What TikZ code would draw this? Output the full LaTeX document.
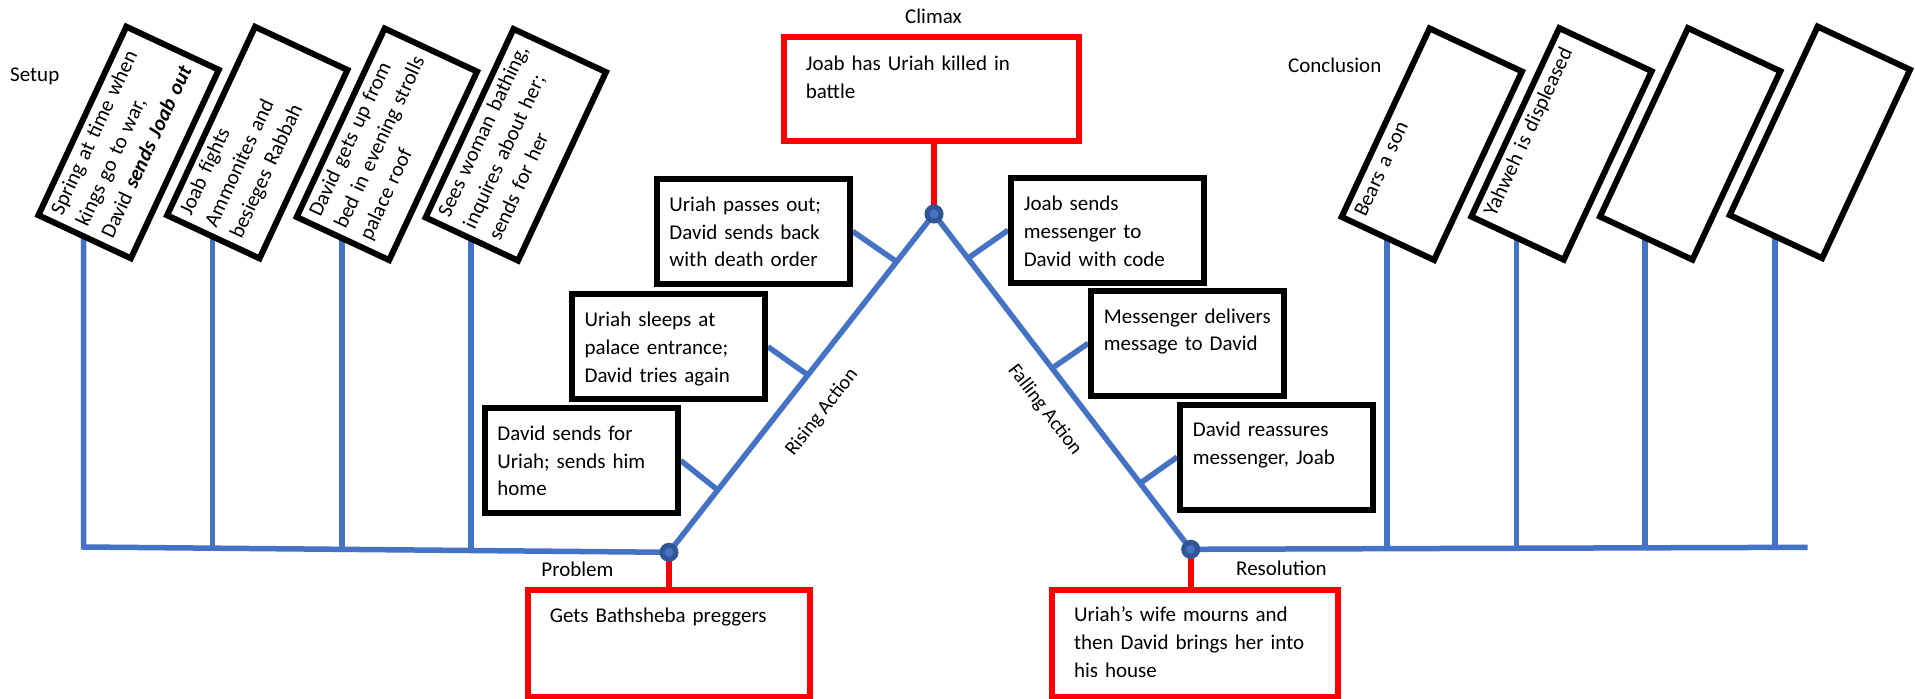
\documentclass[tikz,border=0pt]{standalone}
\usepackage{fontspec}
\setmainfont{Carlito}
\usetikzlibrary{calc,backgrounds}
\definecolor{lineblue}{HTML}{4472C4}
\definecolor{dotblue}{HTML}{2F5597}
\definecolor{boxred}{HTML}{FF0000}
\tikzset{
  txt/.style={font=\fontsize{21}{27.8}\selectfont, inner sep=0pt, anchor=base west, align=left, text width=#1},
  txt/.default=260pt,
  blackbox/.style={draw=black, line width=6pt, fill=white, inner sep=0pt, minimum width=193pt, minimum height=105pt},
  redbox/.style={draw=boxred, line width=6pt, fill=white, inner sep=0pt},
  slantbox/.style={draw=black, line width=6pt, fill=white, inner sep=0pt, minimum width=208pt, minimum height=102pt, rotate=65},
  slanttxt/.style={txt=210pt, rotate=65},
  blueline/.style={draw=lineblue, line width=5.5pt},
  redline/.style={draw=boxred, line width=6pt},
  dot/.style={circle, fill=lineblue, draw=dotblue, line width=5pt, minimum size=14pt, inner sep=0pt},
  lbl/.style={font=\fontsize{21}{26}\selectfont, inner sep=0pt},
  sidelbl/.style={font=\fontsize{20}{24}\selectfont, inner sep=0pt},
}
\begin{document}
\begin{tikzpicture}[x=1pt,y=-1pt]
\useasboundingbox (0,0) rectangle (1915,699);

% ---------- plot points ----------
\node[dot] (prob) at (669,552.3) {};
\node[dot] (clim) at (934,214) {};
\node[dot] (res) at (1190.7,549.3) {};

% ---------- red boxes ----------
\node[redbox, minimum width=294.4pt, minimum height=104pt] (climbox) at (931.3,89.3) {};
\node[txt] at ($(climbox.north west)+(24.5,36)$) {Joab has Uriah killed in\\battle};
\node[redbox, minimum width=281.7pt, minimum height=106.8pt] (probbox) at (668.9,643.1) {};
\node[txt] at ($(probbox.north west)+(24.5,36)$) {Gets Bathsheba preggers};
\node[redbox, minimum width=285.7pt, minimum height=106.8pt] (resbox) at (1195.2,643.1) {};
\node[txt] at ($(resbox.north west)+(24.5,35)$) {Uriah’s wife mourns and\\then David brings her into\\his house};

% ---------- rising / falling boxes ----------
\node[blackbox] (b1l) at (581.2,460.5) {};
\node[txt] at ($(b1l.north west)+(15.5,35.3)$) {David sends for\\Uriah; sends him\\home};
\node[blackbox] (b2l) at (668.4,346.7) {};
\node[txt] at ($(b2l.north west)+(15.5,35.3)$) {Uriah sleeps at\\palace entrance;\\David tries again};
\node[blackbox] (b3l) at (753.2,231.4) {};
\node[txt] at ($(b3l.north west)+(15.5,35.3)$) {Uriah passes out;\\David sends back\\with death order};
\node[blackbox] (b3r) at (1107.6,230.2) {};
\node[txt] at ($(b3r.north west)+(15.5,35.8)$) {Joab sends\\messenger to\\David with code};
\node[blackbox] (b2r) at (1187.7,343.3) {};
\node[txt] at ($(b2r.north west)+(15.5,35.3)$) {Messenger delivers\\message to David};
\node[blackbox] (b1r) at (1276.7,457) {};
\node[txt] at ($(b1r.north west)+(15.5,35.3)$) {David reassures\\messenger, Joab};

% ---------- setup boxes ----------
\node[slantbox] (s1) at (128.6,142.5) {};
\node[slanttxt] at ($(s1.north west)+(27.9,-0.3)$) {Spring at time when\\kings go to war,\\David \textbf{\textit{sends Joab out}}};
\node[slantbox] (s2) at (257.3,142.6) {};
\node[slanttxt] at ($(s2.north west)+(27.9,-0.3)$) {Joab fights\\Ammonites and\\besieges Rabbah};
\node[slantbox] (s3) at (386.9,144.3) {};
\node[slanttxt] at ($(s3.north west)+(27.9,-0.3)$) {David gets up from\\bed in evening strolls\\palace roof};
\node[slantbox] (s4) at (515.8,144.8) {};
\node[slanttxt] at ($(s4.north west)+(27.9,-0.3)$) {Sees woman bathing,\\inquires about her;\\sends for her};

% ---------- conclusion boxes ----------
\node[slantbox] (c1) at (1431.8,144.2) {};
\node[slanttxt] at ($(c1.north west)+(27.9,-0.3)$) {Bears a son};
\node[slantbox] (c2) at (1561.5,143.9) {};
\node[slanttxt] at ($(c2.north west)+(27.9,-0.3)$) {Yahweh is displeased};
\node[slantbox] (c3) at (1690.2,143.9) {};
\node[slantbox] (c4) at (1819.9,142.4) {};

% ---------- labels ----------
\node[lbl, anchor=base west] (setuplbl) at (10,81.5) {Setup};
\node[lbl, anchor=base west] (conclbl) at (1288,72) {Conclusion};
\node[lbl, anchor=base] (climlbl) at (933.5,23.5) {Climax};
\node[lbl, anchor=base west] (problbl) at (541.2,576.8) {Problem};
\node[lbl, anchor=base west] (reslbl) at (1236,575) {Resolution};
\node[sidelbl, rotate=51.9] (riselbl) at (822,412.5) {Rising Action};
\node[sidelbl, rotate=-52.6] (falllbl) at (1044.7,410) {Falling Action};

% ---------- baseline coordinates ----------
\coordinate (L1) at (83.6,547);
\coordinate (L2) at (212.3,548.2);
\coordinate (L3) at (341.9,549.3);
\coordinate (L4) at (470.8,550.5);
\coordinate (R1) at (1386.8,548.7);
\coordinate (R2) at (1516.5,548.2);
\coordinate (R3) at (1645.2,547.8);
\coordinate (R4) at (1774.9,547.4);
\coordinate (Rend) at (1807.7,547.3);

\begin{pgfonlayer}{background}
  \fill[white] (0,0) rectangle (1915,699);
  % exposition line with stems
  \draw[blueline] (L1 |- s1.center) -- (L1) -- (prob.center);
  \draw[blueline] (L2) -- (L2 |- s2.center);
  \draw[blueline] (L3) -- (L3 |- s3.center);
  \draw[blueline] (L4) -- (L4 |- s4.center);
  % rising and falling action
  \draw[blueline] (prob.center) -- (clim.center) -- (res.center);
  % resolution line with stems
  \draw[blueline] (res.center) -- (Rend);
  \draw[blueline] (R1) -- (R1 |- c1.center);
  \draw[blueline] (R2) -- (R2 |- c2.center);
  \draw[blueline] (R3) -- (R3 |- c3.center);
  \draw[blueline] (R4) -- (R4 |- c4.center);
  % event connectors
  \draw[blueline] (b1l.east) -- ($(prob)!0.184!(clim)$);
  \draw[blueline] (b2l.east) -- ($(prob)!0.524!(clim)$);
  \draw[blueline] (b3l.east) -- ($(prob)!0.859!(clim)$);
  \draw[blueline] (b3r.west) -- ($(clim)!0.132!(res)$);
  \draw[blueline] (b2r.west) -- ($(clim)!0.46!(res)$);
  \draw[blueline] (b1r.west) -- ($(clim)!0.803!(res)$);
  % red ties
  \draw[redline] (clim.center) -- (clim.center |- climbox.south);
  \draw[redline] (prob.center) -- (prob.center |- probbox.north);
  \draw[redline] (res.center) -- (res.center |- resbox.north);
\end{pgfonlayer}
\end{tikzpicture}
\end{document}
